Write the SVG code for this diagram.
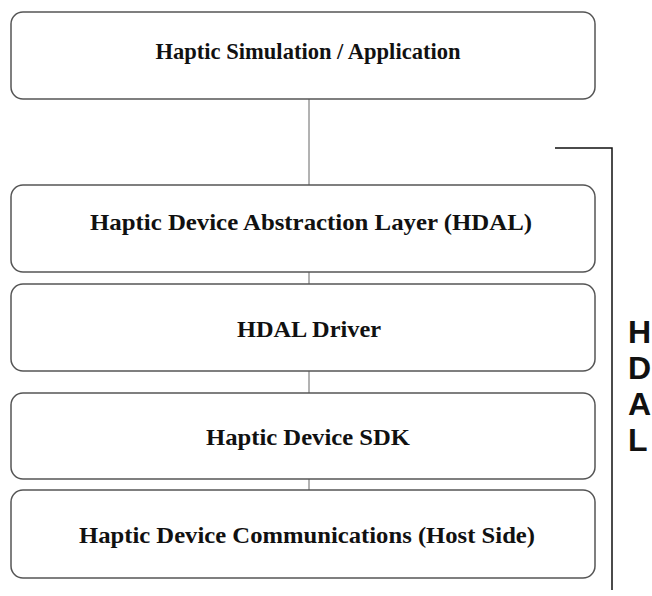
<svg xmlns="http://www.w3.org/2000/svg" width="652" height="596" viewBox="0 0 652 596">
<style>
.box{fill:#fff;stroke:#555;stroke-width:1.5}
.lbl{font-family:"Liberation Serif","Times New Roman",serif;font-weight:bold;font-size:23px;fill:#111;text-anchor:middle}
.con{stroke:#666;stroke-width:1;fill:none}
.side{font-family:"Liberation Sans",Arial,sans-serif;font-weight:bold;font-size:32px;fill:#111}
</style>
<rect width="652" height="596" fill="#fff"/>
<g id="connectors">
<line class="con" x1="309" y1="99" x2="309" y2="185"/>
<line class="con" x1="309" y1="272" x2="309" y2="284"/>
<line class="con" x1="309" y1="371" x2="309" y2="393"/>
<line class="con" x1="309" y1="479" x2="309" y2="490"/>
</g>
<g id="app"><rect class="box" x="11" y="12" width="584" height="87" rx="12"/><text class="lbl" x="308" y="59" textLength="305" lengthAdjust="spacingAndGlyphs">Haptic Simulation / Application</text></g>
<g id="hdal"><rect class="box" x="11" y="185" width="584" height="87" rx="12"/><text class="lbl" x="311" y="230" textLength="442" lengthAdjust="spacingAndGlyphs">Haptic Device Abstraction Layer (HDAL)</text></g>
<g id="driver"><rect class="box" x="11" y="284" width="584" height="87" rx="12"/><text class="lbl" x="309" y="337" textLength="144" lengthAdjust="spacingAndGlyphs">HDAL Driver</text></g>
<g id="sdk"><rect class="box" x="11" y="393" width="584" height="86" rx="12"/><text class="lbl" x="308" y="445" textLength="204" lengthAdjust="spacingAndGlyphs">Haptic Device SDK</text></g>
<g id="comm"><rect class="box" x="11" y="490" width="584" height="88" rx="12"/><text class="lbl" x="307" y="543" textLength="456" lengthAdjust="spacingAndGlyphs">Haptic Device Communications (Host Side)</text></g>
<g id="bracket">
<polyline points="555,148 612,148 612,590" fill="none" stroke="#111" stroke-width="1.5"/>
<text class="side" x="628" y="343">H</text>
<text class="side" x="628" y="379">D</text>
<text class="side" x="628" y="415">A</text>
<text class="side" x="628" y="451">L</text>
</g>
</svg>
